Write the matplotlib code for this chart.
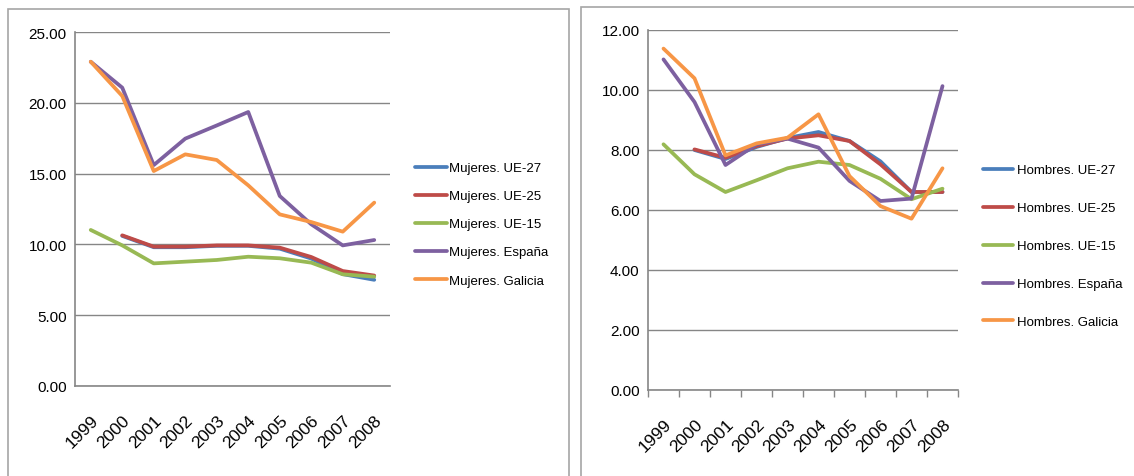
import numpy as np
import matplotlib.pyplot as plt
from matplotlib.patches import Rectangle

plt.rcParams['font.family'] = ['Liberation Sans', 'DejaVu Sans']

# datos
anios = ['1999', '2000', '2001', '2002', '2003', '2004', '2005', '2006', '2007', '2008']

mujeres_ue27 = [np.nan, 10.6, 9.8, 9.8, 9.9, 9.9, 9.7, 9.0, 7.9, 7.5]
mujeres_ue25 = [np.nan, 10.64, 9.84, 9.84, 9.93, 9.93, 9.77, 9.11, 8.12, 7.8]
mujeres_ue15 = [11.02, 9.93, 8.66, 8.78, 8.9, 9.13, 9.02, 8.71, 7.89, 7.72]
mujeres_esp = [22.9, 21.07, 15.6, 17.47, 18.4, 19.35, 13.42, 11.42, 9.93, 10.31]
mujeres_gal = [22.9, 20.48, 15.18, 16.36, 15.96, 14.17, 12.12, 11.58, 10.9, 12.95]

hombres_ue27 = [np.nan, 8.0, 7.7, 8.1, 8.4, 8.6, 8.3, 7.62, 6.6, 6.6]
hombres_ue25 = [np.nan, 8.02, 7.74, 8.13, 8.38, 8.49, 8.3, 7.52, 6.6, 6.6]
hombres_ue15 = [8.19, 7.19, 6.6, 6.99, 7.39, 7.61, 7.5, 7.04, 6.36, 6.71]
hombres_esp = [11.02, 9.6, 7.5, 8.19, 8.38, 8.08, 6.97, 6.3, 6.38, 10.13]
hombres_gal = [11.38, 10.39, 7.82, 8.22, 8.41, 9.19, 7.13, 6.13, 5.71, 7.39]

etiquetas = ['UE-27', 'UE-25', 'UE-15', 'España', 'Galicia']
colores = ['#4A7EBB', '#BE4B48', '#98B954', '#7D60A0', '#F79646']

fig = plt.figure(figsize=(11.34, 4.77), dpi=100)

# marcos de los dos graficos
fig.add_artist(Rectangle((8/1134, -0.1), (569-8)/1134, 1.1 - 10/477, transform=fig.transFigure,
                         fill=False, edgecolor='#A6A6A6', linewidth=1.2))
fig.add_artist(Rectangle((581/1134, -0.1), 0.6, 1.1 - 8/477, transform=fig.transFigure,
                         fill=False, edgecolor='#A6A6A6', linewidth=1.2))

ax1 = fig.add_axes([75/1134, 1 - 387/477, (390-75)/1134, (387-33)/477])
ax2 = fig.add_axes([648/1134, 1 - 391/477, (958-648)/1134, (391-31)/477])

x = np.arange(len(anios))


def dibujar(ax, series, prefijo, ymax, paso, tick_x):
    for vals, lab, col in zip(series, etiquetas, colores):
        ax.plot(x, vals, color=col, linewidth=2.7, label=prefijo + '. ' + lab,
                solid_capstyle='round')
    ax.set_xlim(-0.5, len(anios) - 0.5)
    ax.set_ylim(0, ymax)
    ax.set_yticks(np.arange(0, ymax + 0.01, paso))
    ax.set_yticklabels(['%.2f' % v for v in np.arange(0, ymax + 0.01, paso)], fontsize=11)
    ax.set_xticks(x)
    ax.set_xticklabels(anios, rotation=45, ha='right', rotation_mode='anchor', fontsize=12.5)
    if tick_x:
        ax.set_xticks(np.arange(-0.5, len(anios)), minor=True)
        ax.tick_params(axis='x', which='minor', length=5, color='#868686', width=1)
    ax.tick_params(axis='x', which='major', length=0, pad=19)
    ax.tick_params(axis='y', length=0, pad=6)
    ax.grid(axis='y', color='#868686', linewidth=1)
    ax.set_axisbelow(True)
    for s in ['top', 'right']:
        ax.spines[s].set_visible(False)
    for s in ['left', 'bottom']:
        ax.spines[s].set_color('#868686')
        ax.spines[s].set_linewidth(1.2)


dibujar(ax1, [mujeres_ue27, mujeres_ue25, mujeres_ue15, mujeres_esp, mujeres_gal],
        'Mujeres', 25, 5, False)
dibujar(ax2, [hombres_ue27, hombres_ue25, hombres_ue15, hombres_esp, hombres_gal],
        'Hombres', 12, 2, True)

ax1.legend(loc='upper left', bbox_to_anchor=(415/1134, 1 - 163/477),
           bbox_transform=fig.transFigure, frameon=False, fontsize=9.5,
           handlelength=2.4, handletextpad=0.15, labelspacing=1.2, borderpad=0,
           borderaxespad=0)
ax2.legend(loc='upper left', bbox_to_anchor=(983/1134, 1 - 165/477),
           bbox_transform=fig.transFigure, frameon=False, fontsize=9.5,
           handlelength=2.3, handletextpad=0.3, labelspacing=1.95, borderpad=0,
           borderaxespad=0)

fig.savefig('out.png', dpi=100)
